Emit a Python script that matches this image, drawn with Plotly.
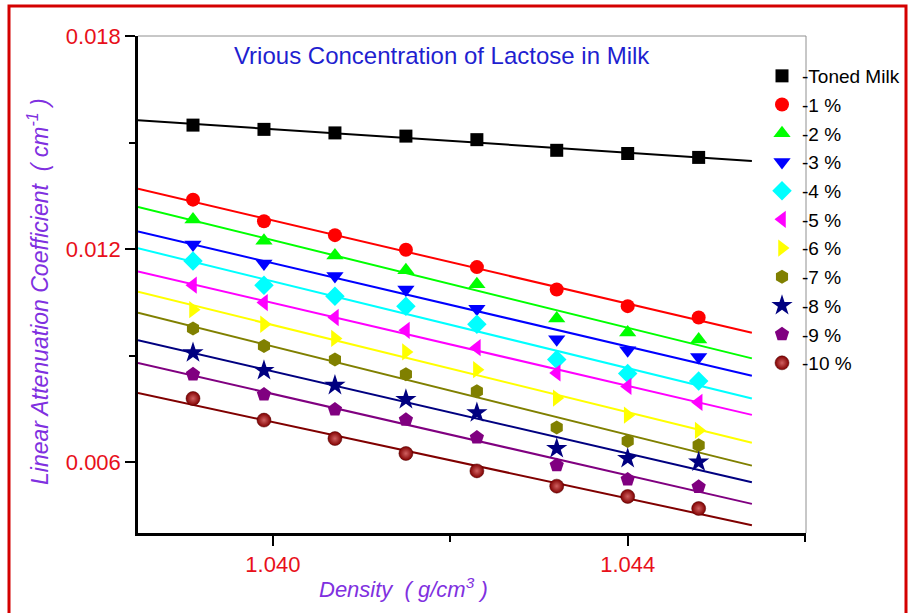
import numpy as np
import plotly.graph_objects as go

density = [1.0391, 1.0399, 1.0407, 1.0415, 1.0423, 1.0432, 1.0440, 1.0448]

series_names = ["-Toned Milk", "-1 %", "-2 %", "-3 %", "-4 %", "-5 %",
                "-6 %", "-7 %", "-8 %", "-9 %", "-10 %"]

toned_milk = [0.01549, 0.01537, 0.01527, 0.01518, 0.01508, 0.01478, 0.01469, 0.01458]
lac_1 = [0.01339, 0.01278, 0.01239, 0.01198, 0.01149, 0.01086, 0.01039, 0.01007]
lac_2 = [0.01283, 0.01223, 0.01182, 0.01140, 0.01101, 0.01004, 0.00965, 0.00945]
lac_3 = [0.01213, 0.01159, 0.01124, 0.01086, 0.01032, 0.00946, 0.00915, 0.00896]
lac_4 = [0.01166, 0.01098, 0.01067, 0.01039, 0.00988, 0.00889, 0.00849, 0.00828]
lac_5 = [0.01098, 0.01049, 0.01007, 0.00971, 0.00922, 0.00851, 0.00813, 0.00768]
lac_6 = [0.01029, 0.00988, 0.00948, 0.00910, 0.00860, 0.00780, 0.00732, 0.00689]
lac_7 = [0.00976, 0.00927, 0.00889, 0.00847, 0.00799, 0.00697, 0.00659, 0.00647]
lac_8 = [0.00908, 0.00858, 0.00816, 0.00776, 0.00739, 0.00638, 0.00610, 0.00600]
lac_9 = [0.00847, 0.00790, 0.00748, 0.00719, 0.00669, 0.00591, 0.00551, 0.00530]
lac_10 = [0.00779, 0.00718, 0.00666, 0.00624, 0.00575, 0.00532, 0.00503, 0.00469]

all_series = [toned_milk, lac_1, lac_2, lac_3, lac_4, lac_5,
              lac_6, lac_7, lac_8, lac_9, lac_10]

colors = ["#000000", "#ff0000", "#00ff00", "#0000ff", "#00ffff", "#ff00ff",
          "#ffff00", "#808000", "#000080", "#800080", "#800000"]
symbols = ["square", "circle", "triangle-up", "triangle-down", "diamond",
           "triangle-left", "triangle-right", "hexagon", "star", "pentagon", "circle"]
sizes = [13, 14, 15, 15, 15, 15, 15, 14, 16, 15, 14]

x_tick_vals = [1.040, 1.044]
x_tick_text = ["1.040", "1.044"]
y_tick_vals = [0.006, 0.012, 0.018]
y_tick_text = ["0.006", "0.012", "0.018"]

fit_range = [1.03848, 1.0454]

W, H = 912, 613
ML, MR, MT, MB = 138, 106, 36, 80
PW, PH = W - ML - MR, H - MT - MB


def px_x(p):
    return (p - ML) / PW


def px_y(p):
    return 1 - (p - MT) / PH


fig = go.Figure()

# fit lines
for vals, col in zip(all_series, colors):
    coef = np.polyfit(density, vals, 1)
    fx = np.array(fit_range)
    fy = np.polyval(coef, fx)
    fig.add_trace(go.Scatter(x=fx, y=fy, mode="lines",
                             line=dict(color=col, width=2),
                             showlegend=False, hoverinfo="skip"))

# markers
for i, (name, vals, col, sym, sz) in enumerate(zip(series_names, all_series, colors, symbols, sizes)):
    marker = dict(symbol=sym, color=col, size=sz, line=dict(width=0))
    if i == 10:
        marker["gradient"] = dict(type="radial", color="#d06060")
        marker["line"] = dict(width=0.5, color="#500000")
    fig.add_trace(go.Scatter(x=density, y=vals, mode="markers", name=name,
                             marker=marker, legendgroup=f"g{i}"))

red = "#e8101a"
purple = "#8030e0"

fig.update_xaxes(range=[1.03848, 1.04601], showline=True, linecolor="black", linewidth=2.5,
                 ticks="outside", ticklen=10, tickwidth=2, tickcolor="black",
                 tickvals=x_tick_vals, ticktext=x_tick_text, automargin=False,
                 minor=dict(tickvals=[1.042, 1.046], ticks="outside", ticklen=6,
                            tickwidth=2, tickcolor="black"),
                 tickfont=dict(family="Liberation Sans, Arial", size=22, color=red),
                 showgrid=False, zeroline=False)
fig.update_yaxes(range=[0.004, 0.018], showline=True, linecolor="black", linewidth=2.5,
                 ticks="outside", ticklen=10, tickwidth=2, tickcolor="black",
                 tickvals=y_tick_vals, ticktext=y_tick_text, automargin=False,
                 minor=dict(tickvals=[0.009, 0.015], ticks="outside", ticklen=6,
                            tickwidth=2, tickcolor="black"),
                 tickfont=dict(family="Liberation Sans, Arial", size=22, color=red),
                 showgrid=False, zeroline=False)

shapes = [
    dict(type="line", xref="paper", yref="paper", x0=0, x1=1, y0=1, y1=1,
         line=dict(color="#909090", width=1)),
    dict(type="line", xref="paper", yref="paper", x0=1, x1=1, y0=0, y1=1,
         line=dict(color="#909090", width=1)),
    dict(type="rect", xref="paper", yref="paper",
         x0=px_x(9), x1=px_x(906), y0=px_y(625), y1=px_y(6),
         line=dict(color="#d40000", width=3), fillcolor="rgba(0,0,0,0)", layer="below"),
]

annotations = [
    dict(text="Vrious Concentration of Lactose in Milk", xref="paper", yref="paper",
         x=px_x(442), y=px_y(55), showarrow=False, xanchor="center", yanchor="middle",
         font=dict(family="Liberation Sans, Arial", size=24, color="#1f1fd0")),
    dict(text="<i>Linear Attenuation Coefficient  ( cm<sup>-1</sup> )</i>", xref="paper", yref="paper",
         x=px_x(38), y=px_y(292), showarrow=False, textangle=-90,
         xanchor="center", yanchor="middle",
         font=dict(family="Liberation Sans, Arial", size=23, color=purple)),
    dict(text="<i>Density  ( g/cm<sup>3</sup> )</i>", xref="paper", yref="paper",
         x=px_x(403), y=px_y(588), showarrow=False,
         xanchor="center", yanchor="middle",
         font=dict(family="Liberation Sans, Arial", size=22, color=purple)),
]

fig.update_layout(
    width=W, height=H,
    margin=dict(l=ML, r=MR, t=MT, b=MB, autoexpand=False),
    paper_bgcolor="white", plot_bgcolor="white",
    shapes=shapes, annotations=annotations,
    legend=dict(x=px_x(762), y=px_y(57), xanchor="left", yanchor="top",
                maxheight=1000,
                bgcolor="rgba(0,0,0,0)", borderwidth=0, tracegroupgap=1,
                font=dict(family="Liberation Sans, Arial", size=19, color="black")),
    font=dict(family="Liberation Sans, Arial"),
)

fig.write_html("out.html", config={"displayModeBar": False},
               post_script="document.body.style.margin='0';")
